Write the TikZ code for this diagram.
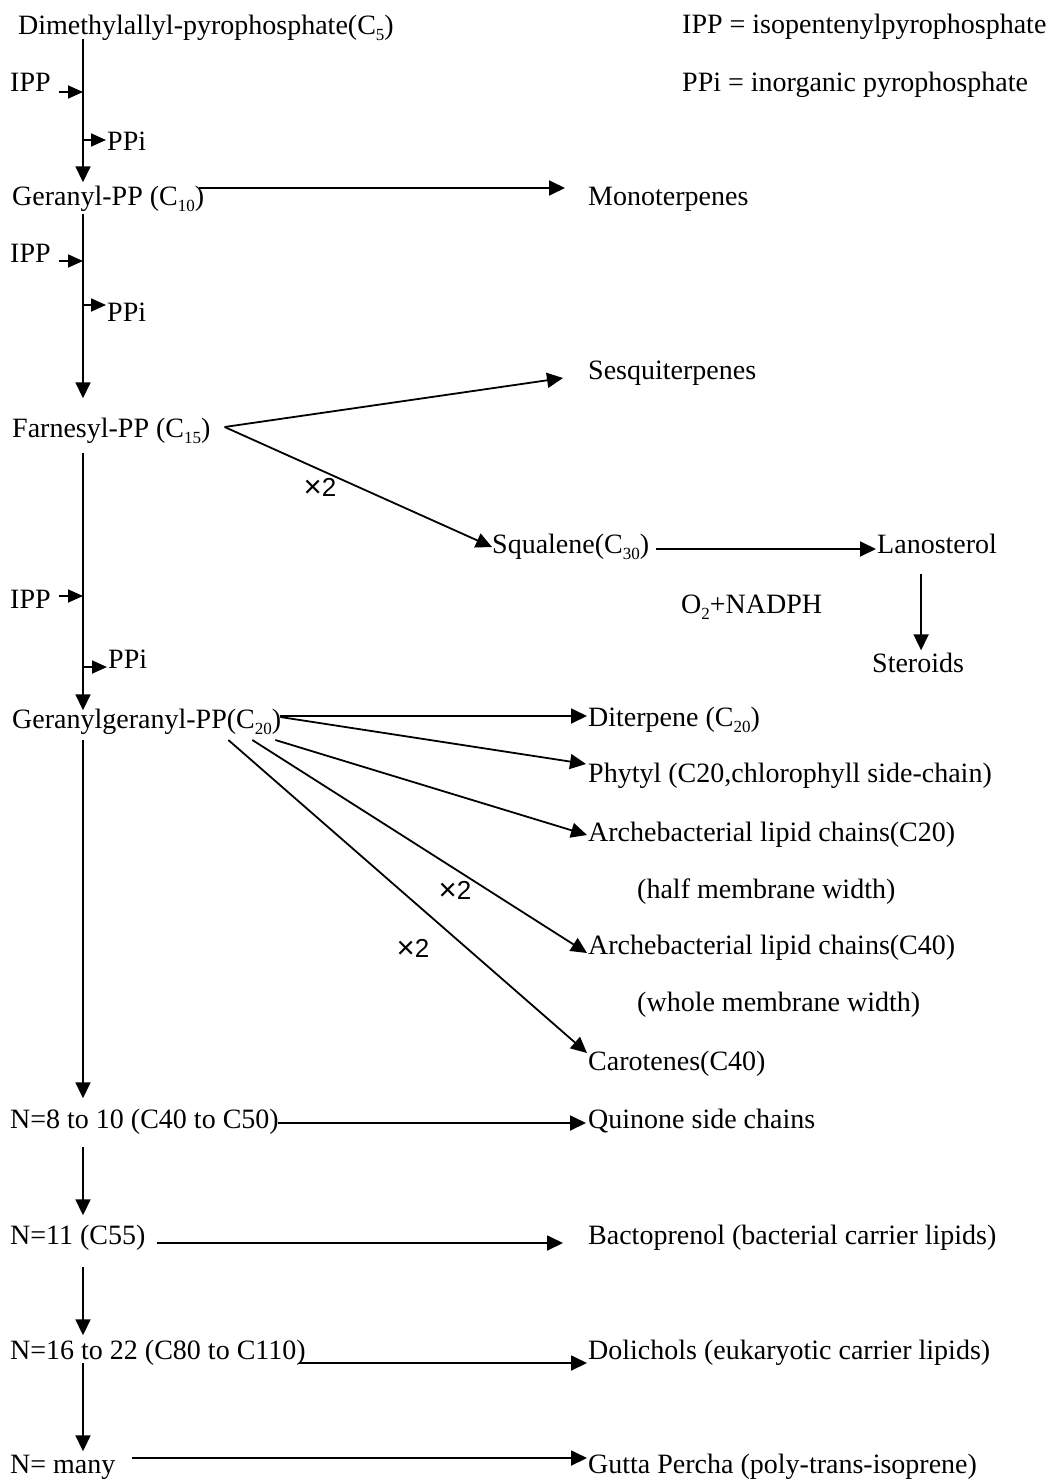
\documentclass[tikz,border=0pt]{standalone}
\usepackage{graphicx}
\usepackage{fontspec}
\setmainfont{Liberation Serif}
\newfontfamily\sansf{Liberation Sans}
\usetikzlibrary{arrows.meta,calc}
\newcommand{\lowsub}[1]{\raisebox{-6pt}{\fontsize{17}{17}\selectfont #1}}
\newcommand{\timestwo}{\raisebox{-1.5pt}{\scalebox{1.2}{×}}2}
\begin{document}
\begin{tikzpicture}[x=1pt,y=-1pt,
  lbl/.style={anchor=west,inner sep=0pt,font=\fontsize{28}{32}\selectfont,text height=19pt,text depth=6pt},
  times/.style={inner sep=0pt,font=\sansf\fontsize{26}{29}\selectfont},
  arr/.style={line width=1.8pt,-{Triangle[length=16pt,width=15pt]}},
  sarr/.style={line width=1.8pt,-{Triangle[length=15pt,width=13pt]}}]
\useasboundingbox (0,0) rectangle (1052,1482);
\coordinate (spine) at (83,0);
% nodes
\node[lbl] (dma) at (18,28) {Dimethylallyl-pyrophosphate(C\lowsub{5})};
\node[lbl] (ippdef) at (682,27) {IPP = isopentenylpyrophosphate};
\node[lbl] (ppidef) at (682,85) {PPi = inorganic pyrophosphate};
\node[lbl] (ipp1) at (10,85) {IPP};
\node[lbl] (ppi1) at (107,144) {PPi};
\node[lbl] (ger) at (12,199) {Geranyl-PP (C\lowsub{10})};
\node[lbl] (mono) at (588,199) {Monoterpenes};
\node[lbl] (ipp2) at (10,256) {IPP};
\node[lbl] (ppi2) at (107,315) {PPi};
\node[lbl] (sesq) at (588,373) {Sesquiterpenes};
\node[lbl] (far) at (12,431) {Farnesyl-PP (C\lowsub{15})};
\node[times] (x2a) at (320,488) {\timestwo};
\node[lbl] (squ) at (492,547) {Squalene(C\lowsub{30})};
\node[lbl] (lano) at (877,547) {Lanosterol};
\node[lbl] (o2) at (681,607) {O\lowsub{2}+NADPH};
\node[lbl] (ster) at (872,666) {Steroids};
\node[lbl] (ipp3) at (10,602) {IPP};
\node[lbl] (ppi3) at (108,662) {PPi};
\node[lbl] (gg) at (12,722) {Geranylgeranyl-PP(C\lowsub{20})};
\node[lbl] (dit) at (588,720) {Diterpene (C\lowsub{20})};
\node[lbl] (phy) at (588,776) {Phytyl (C20,chlorophyll side-chain)};
\node[lbl] (arch1) at (588,835) {Archebacterial lipid chains(C20)};
\node[lbl] (half) at (637,892) {(half membrane width)};
\node[lbl] (arch2) at (588,948) {Archebacterial lipid chains(C40)};
\node[lbl] (whole) at (637,1005) {(whole membrane width)};
\node[lbl] (caro) at (588,1064) {Carotenes(C40)};
\node[times] (x2b) at (455,891) {\timestwo};
\node[times] (x2c) at (413,949) {\timestwo};
\node[lbl] (n8) at (10,1122) {N=8 to 10 (C40 to C50)};
\node[lbl] (quin) at (588,1122) {Quinone side chains};
\node[lbl] (n11) at (10,1238) {N=11 (C55)};
\node[lbl] (bact) at (588,1238) {Bactoprenol (bacterial carrier lipids)};
\node[lbl] (n16) at (10,1353) {N=16 to 22 (C80 to C110)};
\node[lbl] (doli) at (588,1353) {Dolichols (eukaryotic carrier lipids)};
\node[lbl] (nmany) at (10,1467) {N= many};
\node[lbl] (gutta) at (588,1467) {Gutta Percha (poly-trans-isoprene)};
% main spine
\draw[arr] ($(dma.south -| spine)+(0,-2)$) -- ($(ger.north -| spine)+(0,-4)$);
\draw[arr] ($(ger.south -| spine)+(0,2)$) -- ($(far.north -| spine)+(0,-20)$);
\draw[arr] ($(far.south -| spine)+(0,9)$) -- ($(gg.north -| spine)+(0,1)$);
\draw[arr] ($(gg.south -| spine)+(0,5)$) -- ($(n8.north -| spine)+(0,-11)$);
\draw[arr] ($(n8.south -| spine)+(0,12)$) -- ($(n11.north -| spine)+(0,-10)$);
\draw[arr] ($(n11.south -| spine)+(0,16)$) -- ($(n16.north -| spine)+(0,-5)$);
\draw[arr] ($(n16.south -| spine)+(0,-3)$) -- ($(nmany.north -| spine)+(0,-3)$);
% IPP in, PPi out
\draw[sarr] ($(ipp1.east)+(8,7)$) -- ($(ipp1.east -| spine)+(0,7)$);
\draw[sarr] ($(ppi1.west -| spine)+(0,-4)$) -- ($(ppi1.west)+(-1,-4)$);
\draw[sarr] ($(ipp2.east)+(8,5)$) -- ($(ipp2.east -| spine)+(0,5)$);
\draw[sarr] ($(ppi2.west -| spine)+(0,-10)$) -- ($(ppi2.west)+(-1,-10)$);
\draw[sarr] ($(ipp3.east)+(8,-6)$) -- ($(ipp3.east -| spine)+(0,-6)$);
\draw[sarr] ($(ppi3.west -| spine)+(0,5)$) -- ($(ppi3.west)+(-1,5)$);
% side branches
\draw[arr] ($(ger.east)+(-5,-11)$) -- ($(mono.west)+(-23,-11)$);
\draw[arr] ($(far.east)+(14,-4)$) -- ($(sesq.west)+(-25,5)$);
\draw[arr] ($(far.east)+(14,-4)$) -- ($(squ.west)+(0,0)$);
\draw[arr] ($(squ.east)+(7,2)$) -- ($(lano.west)+(-1,2)$);
\draw[arr] ($(lano.south -| ster.north)+(3,14)$) -- ($(ster.north)+(3,-3)$);
\draw[arr] ($(gg.east)+(-1,-6)$) -- ($(dit.west)+(-1,-4)$);
\draw[arr] ($(gg.east)+(-1,-5)$) -- ($(phy.west)+(-2,-12)$);
\draw[arr] ($(gg.east)+(-6,18)$) -- ($(arch1.west)+(-1,0)$);
\draw[arr] ($(gg.east)+(-29,18)$) -- ($(arch2.west)+(-1,5)$);
\draw[arr] ($(gg.east)+(-53,18)$) -- ($(caro.west)+(-1,-11)$);
\draw[arr] ($(n8.east)+(-1,1)$) -- ($(quin.west)+(-2,1)$);
\draw[arr] ($(n11.east)+(11,5)$) -- ($(bact.west)+(-25,5)$);
\draw[arr] ($(n16.east)+(-7,10)$) -- ($(doli.west)+(-1,10)$);
\draw[arr] ($(nmany.east)+(16,-9)$) -- ($(gutta.west)+(-1,-9)$);
\end{tikzpicture}
\end{document}
